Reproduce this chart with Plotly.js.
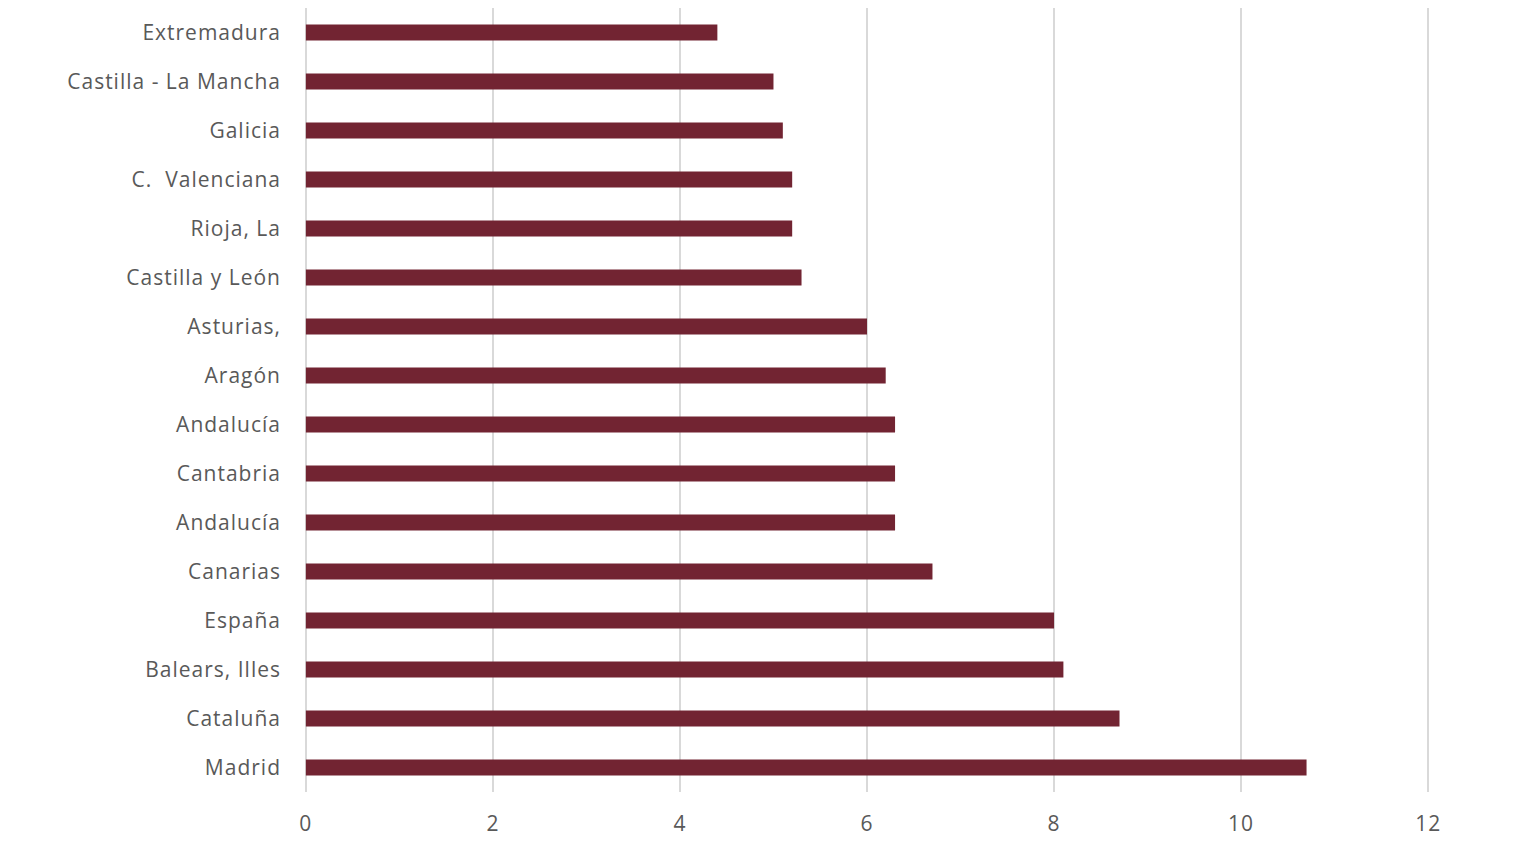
<!DOCTYPE html>
<html>
<head>
<meta charset="utf-8">
<script src="https://cdn.plot.ly/plotly-3.0.1.min.js"></script>
<style>
html,body{margin:0;padding:0;background:#fff;}
#chart{width:1514px;height:849px;}
.ytick text, .xtick text{letter-spacing:1px;}
</style>
</head>
<body>
<div id="chart"></div>
<script>
const regions = ["Madrid","Cataluña","Balears, Illes","España","Canarias","Andalucía","Cantabria","Andalucía","Aragón","Asturias,","Castilla y León","Rioja, La","C.  Valenciana","Galicia","Castilla - La Mancha","Extremadura"];
const values = [10.7, 8.7, 8.1, 8.0, 6.7, 6.3, 6.3, 6.3, 6.2, 6.0, 5.3, 5.2, 5.2, 5.1, 5.0, 4.4];
const xTicks = [0, 2, 4, 6, 8, 10, 12];
const positions = regions.map((_, i) => i);

const data = [{
  type: "bar",
  orientation: "h",
  y: positions,
  x: values,
  text: regions,
  textposition: "none",
  marker: {color: "#722432"},
  hoverinfo: "text+x"
}];

const layout = {
  width: 1514, height: 849,
  margin: {l: 304, r: 84, t: 8, b: 57},
  paper_bgcolor: "#ffffff", plot_bgcolor: "#ffffff",
  showlegend: false,
  bargap: 0.67,
  font: {family: "Open Sans, Liberation Sans, sans-serif", size: 21, color: "#595959"},
  xaxis: {
    range: [-0.02, 12.02],
    tickvals: xTicks,
    ticktext: xTicks.map(String),
    showgrid: true, gridcolor: "#d9d9d9", gridwidth: 2,
    zeroline: false, showline: false,
    ticks: "", ticklen: 0,
    ticklabelstandoff: 17,
    tickfont: {size: 21, color: "#595959"}
  },
  yaxis: {
    range: [-0.5, regions.length - 0.5],
    tickvals: positions,
    ticktext: regions,
    showgrid: false, zeroline: false, showline: false,
    ticks: "", ticklen: 0,
    ticklabelstandoff: 22,
    tickfont: {size: 21, color: "#595959"},
    automargin: false
  }
};

Plotly.newPlot("chart", data, layout, {displayModeBar: false, staticPlot: true});
</script>
</body>
</html>
